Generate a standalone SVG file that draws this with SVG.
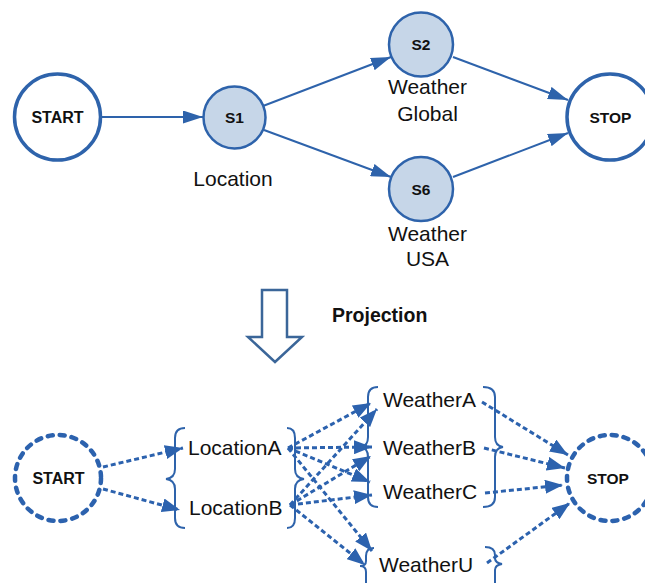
<svg xmlns="http://www.w3.org/2000/svg" width="645" height="583" viewBox="0 0 645 583">
  <defs>
    <style>
      .n { fill: #ffffff; stroke: #2e63ab; stroke-width: 3.5; }
      .s { fill: #c6d6e8; stroke: #2e63ab; stroke-width: 2.5; }
      .dn { fill: #ffffff; stroke: #2c62ae; stroke-width: 4.5; stroke-dasharray: 5 7; stroke-linecap: round; }
      .e { fill: none; stroke: #2e63ab; stroke-width: 2; marker-end: url(#ah); }
      .d { fill: none; stroke: #2c62ae; stroke-width: 3; stroke-dasharray: 5 3; marker-end: url(#ah2); }
      .br { fill: none; stroke: #2e63ab; stroke-width: 2; }
      .lb { font-family: "Liberation Sans", Arial, sans-serif; font-size: 15.5px; font-weight: bold; fill: #111; text-anchor: middle; }
      .tx { font-family: "Liberation Sans", Arial, sans-serif; font-size: 21px; fill: #111; }
      .c { text-anchor: middle; }
    </style>
    <marker id="ah" markerUnits="userSpaceOnUse" markerWidth="20" markerHeight="13" refX="20" refY="6.5" orient="auto" viewBox="0 0 20 13">
      <path d="M0,0 L20,6.5 L0,13 z" fill="#2e63ab"/>
    </marker>
    <marker id="ah2" markerUnits="userSpaceOnUse" markerWidth="18" markerHeight="14" refX="18" refY="7" orient="auto" viewBox="0 0 18 14">
      <path d="M0,0 L18,7 L0,14 z" fill="#2c62ae"/>
    </marker>
  </defs>

  <rect width="645" height="583" fill="#ffffff"/>

  <!-- ===== upper workflow ===== -->
  <g id="top-edges">
    <path class="e" d="M102,117 L203,117"/>
    <path class="e" d="M263,106 L391,57"/>
    <path class="e" d="M264,130 L391,177"/>
    <path class="e" d="M453,57 L568,100"/>
    <path class="e" d="M453,177 L568,133"/>
  </g>

  <g id="start">
    <circle class="n" cx="57.5" cy="117" r="43"/>
    <text class="lb" x="57.5" y="123" style="font-size:16px">START</text>
  </g>
  <g id="s1">
    <circle class="s" cx="234.5" cy="117.5" r="31"/>
    <text class="lb" x="234.5" y="122.5">S1</text>
    <text class="tx c" x="233" y="186">Location</text>
  </g>
  <g id="s2">
    <circle class="s" cx="421" cy="44.5" r="32"/>
    <text class="lb" x="421" y="50">S2</text>
    <text class="tx c" x="427.5" y="94">Weather</text>
    <text class="tx c" x="427.5" y="120.5">Global</text>
  </g>
  <g id="s6">
    <circle class="s" cx="421" cy="189" r="32"/>
    <text class="lb" x="421" y="194.5">S6</text>
    <text class="tx c" x="427.5" y="240.5">Weather</text>
    <text class="tx c" x="427.5" y="265.5">USA</text>
  </g>
  <g id="stop">
    <circle class="n" cx="610" cy="117" r="43"/>
    <text class="lb" x="610.5" y="122.5">STOP</text>
  </g>

  <!-- ===== projection step ===== -->
  <g id="projection">
    <polygon points="262,290 287,290 287,337 302,337 275,362 248,337 262,337" fill="#ffffff" stroke="#3b6699" stroke-width="2.5" stroke-linejoin="miter"/>
    <text x="332" y="322" style="font-family:'Liberation Sans',Arial,sans-serif;font-size:19.5px;font-weight:bold;fill:#111">Projection</text>
  </g>

  <!-- ===== projected workflow ===== -->
  <g id="bottom-edges">
    <path class="d" d="M103,467 L183,448"/>
    <path class="d" d="M103,489 L180,510"/>

    <path class="d" d="M288,448 L371,403"/>
    <path class="d" d="M290,505 L377,409"/>
    <path class="d" d="M288,448 L372,447"/>
    <path class="d" d="M290,505 L371,456"/>
    <path class="d" d="M288,448 L370,482"/>
    <path class="d" d="M290,505 L372,495"/>
    <path class="d" d="M288,448 L372,551"/>
    <path class="d" d="M290,505 L365,565"/>

    <path class="d" d="M482,402 L568,455"/>
    <path class="d" d="M484,448 L565,468"/>
    <path class="d" d="M485,493 L563,485"/>
    <path class="d" d="M487,563 L570,503"/>
  </g>

  <g id="start-p">
    <circle class="dn" cx="58" cy="478" r="43"/>
    <text class="lb" x="58.5" y="483.5" style="font-size:16px">START</text>
  </g>

  <g id="locations">
    <path class="br" d="M185,428 Q175,428 175,438 L175,469 Q175,478 166,479 Q175,480 175,489 L175,518 Q175,528 185,528"/>
    <path class="br" d="M287,428 Q295,428 295,438 L295,469 Q295,478 304,479 Q295,480 295,489 L295,518 Q295,528 287,528"/>
    <text class="tx" x="188" y="455">LocationA</text>
    <text class="tx" x="189" y="515">LocationB</text>
  </g>

  <g id="weathers">
    <path class="br" d="M378,387 Q368,387 368,397 L368,437 Q368,446 361,447 Q368,448 368,457 L368,497 Q368,507 378,507"/>
    <path class="br" d="M483,387 Q495,387 495,397 L495,437 Q495,446 503,447 Q495,448 495,457 L495,497 Q495,507 483,507"/>
    <text class="tx" x="383" y="407">WeatherA</text>
    <text class="tx" x="383" y="455">WeatherB</text>
    <text class="tx" x="383" y="499">WeatherC</text>
  </g>

  <g id="weather-u">
    <path class="br" d="M374,548 Q366,548 366,556 L366,561 Q366,566 360,566 Q366,566 366,572 L366,590"/>
    <path class="br" d="M485,547 Q495,547 495,555 L495,558 Q495,563 502,564 Q495,565 495,570 L495,590"/>
    <text class="tx" x="379" y="572">WeatherU</text>
  </g>

  <g id="stop-p">
    <circle class="dn" cx="610" cy="478" r="43"/>
    <text class="lb" x="608" y="483.5">STOP</text>
  </g>
</svg>
